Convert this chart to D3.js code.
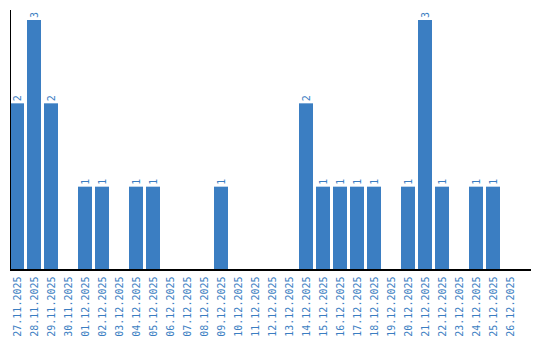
<!DOCTYPE html>
<html><head><meta charset="utf-8">
<script src="https://cdn.jsdelivr.net/npm/d3@7"></script>
<style>body{margin:0;background:#fff}svg{display:block}</style>
</head><body>
<script>
const dates = ["27.11.2025","28.11.2025","29.11.2025","30.11.2025","01.12.2025","02.12.2025","03.12.2025","04.12.2025","05.12.2025","06.12.2025","07.12.2025","08.12.2025","09.12.2025","10.12.2025","11.12.2025","12.12.2025","13.12.2025","14.12.2025","15.12.2025","16.12.2025","17.12.2025","18.12.2025","19.12.2025","20.12.2025","21.12.2025","22.12.2025","23.12.2025","24.12.2025","25.12.2025","26.12.2025"];
const counts = [2,3,2,0,1,1,0,1,1,0,0,0,1,0,0,0,0,2,1,1,1,1,0,1,3,1,0,1,1,0];
const yMaxFactor = 1.04;

const W = 540, H = 340;
const color = "#3b7ec2";
const svg = d3.select("body").append("svg").attr("width", W).attr("height", H);

const x = d3.scaleBand().domain(dates).range([10, 517]).paddingInner(3/17).paddingOuter(0);
const y = d3.scaleLinear().domain([0, d3.max(counts) * yMaxFactor]).range([270, 10]);
const data = dates.map((d, i) => ({d, v: counts[i]}));

svg.append("g").selectAll("rect").data(data.filter(e => e.v > 0)).join("rect")
  .attr("x", e => x(e.d)).attr("width", x.bandwidth())
  .attr("y", e => y(e.v)).attr("height", e => y(0) - y(e.v))
  .attr("fill", color);

svg.append("g").selectAll("text").data(data.filter(e => e.v > 0)).join("text")
  .attr("transform", e => `translate(${x(e.d) + x.bandwidth()/2},${y(e.v) - 2}) rotate(-90)`)
  .attr("text-anchor", "start").attr("dominant-baseline", "central")
  .attr("font-family", "DejaVu Sans Mono").attr("font-size", 10).attr("fill", color)
  .text(e => e.v);

const xAxis = svg.append("g").attr("transform", "translate(0,270)")
  .call(d3.axisBottom(x).tickSize(0).tickPadding(0));
xAxis.select(".domain").remove();
xAxis.selectAll("text")
  .attr("transform", "translate(0,6.5) rotate(-90)")
  .attr("text-anchor", "end").attr("dy", null).attr("y", 0).attr("x", 0)
  .attr("dominant-baseline", "central")
  .attr("font-family", "DejaVu Sans Mono").attr("font-size", 10).attr("fill", color);

svg.append("line").attr("x1", 10).attr("x2", 531).attr("y1", 270).attr("y2", 270)
  .attr("stroke", "#000").attr("stroke-width", 2);
svg.append("line").attr("x1", 10.5).attr("x2", 10.5).attr("y1", 10).attr("y2", 270)
  .attr("stroke", "#000").attr("stroke-width", 1);
</script>
</body></html>
